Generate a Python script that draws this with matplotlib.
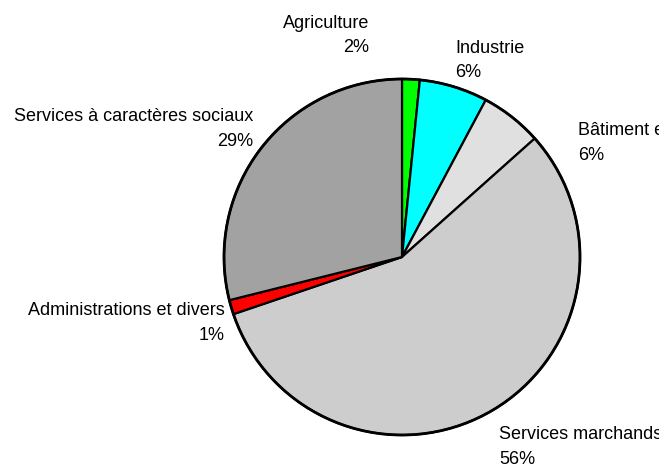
import matplotlib
matplotlib.use("Agg")
import matplotlib.pyplot as plt

# Data
categories = ["Agriculture", "Industrie", "Bâtiment et génie civil", "Services marchands",
              "Administrations et divers", "Services à caractères sociaux"]
values = [1.6, 6.2, 5.6, 56.4, 1.3, 28.9]
colors = ["#00ff00", "#00ffff", "#e0e0e0", "#cdcdcd", "#ff0000", "#a2a2a2"]

W, H = 659, 465
plt.rcParams['font.family'] = ['Liberation Sans', 'DejaVu Sans']

fig = plt.figure(figsize=(W / 100, H / 100), dpi=100)
ax = fig.add_axes([0, 0, 1, 1])

cx, cy, r = 402, H - 257, 178
wedges, _ = ax.pie(values, colors=colors, startangle=90, counterclock=False,
                   center=(cx, cy), radius=r, frame=True,
                   wedgeprops=dict(edgecolor='black', linewidth=1.6))
ax.set_xlim(0, W)
ax.set_ylim(0, H)
ax.set_aspect('equal')
ax.axis('off')
circle = plt.Circle((cx, cy), r, fill=False, edgecolor='black', linewidth=2)
ax.add_patch(circle)

# label positions: (x, baseline y of name line, alignment)
label_pos = [
    (369, 28, 'right'),
    (455, 53, 'left'),
    (578, 135, 'left'),
    (499, 439, 'left'),
    (225, 315, 'right'),
    (253, 121, 'right'),
]
fs = 13
for cat, v, (x, yb, ha) in zip(categories, values, label_pos):
    ax.text(x, H - yb, cat, ha=ha, va='baseline', fontsize=fs, color='black', clip_on=False)
    ax.text(x, H - (yb + 24.5), f"{round(v)}%", ha=ha, va='baseline', fontsize=fs,
            color='black', clip_on=False)

fig.savefig("out.png", dpi=100)
